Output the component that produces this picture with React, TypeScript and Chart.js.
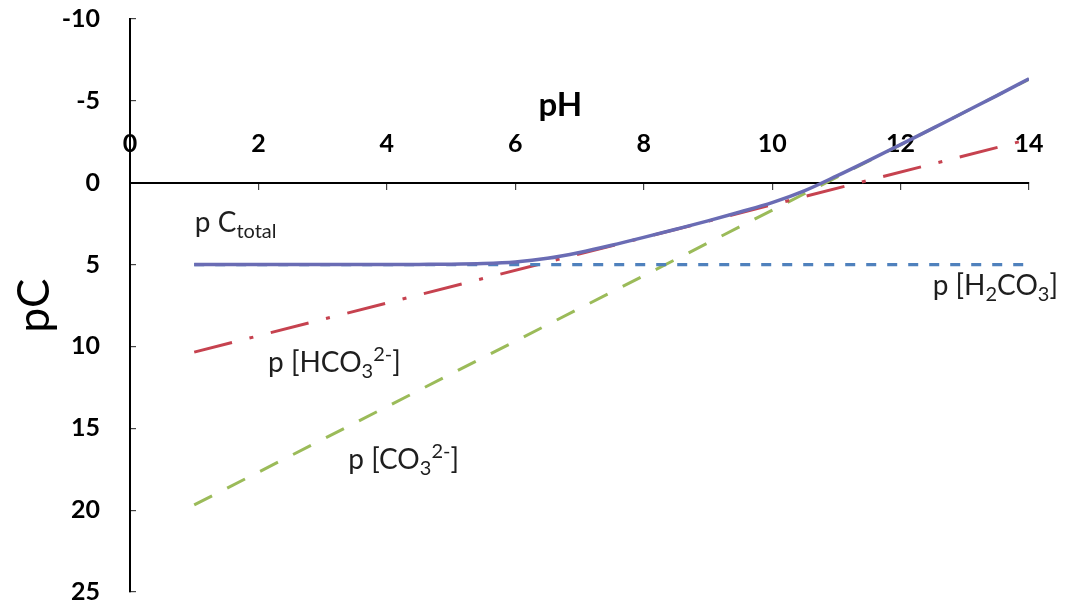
import React, { useEffect, useRef } from 'react';
import { Chart, registerables } from 'chart.js';

Chart.register(...registerables);

// ---- data ----
const phTotal = [1, 2, 3, 4, 4.5, 5, 5.5, 6, 6.5, 7, 7.5, 8, 8.5, 9, 9.5, 10, 10.5, 11, 11.5, 12, 12.5, 13, 13.5, 14];
const pcTotal = [5, 5, 5, 5, 4.99, 4.98, 4.94, 4.84, 4.62, 4.26, 3.82, 3.34, 2.84, 2.33, 1.79, 1.22, 0.5, -0.4, -1.35, -2.33, -3.32, -4.32, -5.32, -6.35];
const phLine = [1, 14];
const pcH2CO3 = [5, 5];
const pcHCO3 = [10.35, -2.65];
const pcCO3 = [19.68, -6.32];
const xTickValues = [0, 2, 4, 6, 8, 10, 12, 14];
const yTickValues = [-10, -5, 0, 5, 10, 15, 20, 25];

type Part = { t: string; k: 'n' | 'sub' | 'sup' };
const labelCTotal: Part[] = [{ t: 'p C', k: 'n' }, { t: 'total', k: 'sub' }];
const labelHCO3: Part[] = [{ t: 'p [HCO', k: 'n' }, { t: '3', k: 'sub' }, { t: '2-', k: 'sup' }, { t: ']', k: 'n' }];
const labelCO3: Part[] = [{ t: 'p [CO', k: 'n' }, { t: '3', k: 'sub' }, { t: '2-', k: 'sup' }, { t: ']', k: 'n' }];
const labelH2CO3: Part[] = [{ t: 'p [H', k: 'n' }, { t: '2', k: 'sub' }, { t: 'CO', k: 'n' }, { t: '3', k: 'sub' }, { t: ']', k: 'n' }];

// anchors (left edge, baseline) in data units
const annotations: { parts: Part[]; x: number; y: number }[] = [
  { parts: labelCTotal, x: 1.01, y: 3.0 },
  { parts: labelHCO3, x: 2.15, y: 11.55 },
  { parts: labelCO3, x: 3.4, y: 17.5 },
  { parts: labelH2CO3, x: 12.5, y: 6.85 },
];

const toXY = (xs: number[], ys: number[]) => xs.map((x, i) => ({ x, y: ys[i] }));

function drawRich(ctx: CanvasRenderingContext2D, x: number, y: number, parts: Part[]) {
  let cx = x;
  for (const p of parts) {
    const size = p.k === 'n' ? 28 : 20;
    ctx.font = `${size}px Lato`;
    const dy = p.k === 'sub' ? 6 : p.k === 'sup' ? -11 : 0;
    ctx.fillText(p.t, cx, y + dy);
    cx += ctx.measureText(p.t).width;
  }
}

const labelPlugin = {
  id: 'richLabels',
  afterDraw(chart: any) {
    const ctx = chart.ctx as CanvasRenderingContext2D;
    const xs = chart.scales.x;
    const ys = chart.scales.y;
    ctx.save();
    ctx.fillStyle = '#1e1e1e';
    ctx.textAlign = 'left';
    ctx.textBaseline = 'alphabetic';
    for (const a of annotations) {
      drawRich(ctx, xs.getPixelForValue(a.x), ys.getPixelForValue(a.y), a.parts);
    }
    // axis title pH
    ctx.fillStyle = '#000';
    ctx.font = 'bold 33px Lato';
    ctx.textAlign = 'center';
    ctx.fillText('pH', xs.getPixelForValue(6.7), ys.getPixelForValue(0) - 67);
    ctx.restore();
  },
};

export default function App() {
  const ref = useRef<HTMLCanvasElement>(null);
  useEffect(() => {
    if (!ref.current) return;
    const chart = new Chart(ref.current, {
      type: 'line',
      data: {
        datasets: [
          {
            label: 'p Ctotal',
            data: toXY(phTotal, pcTotal),
            borderColor: '#6A6CB4',
            borderWidth: 3.5,
            pointRadius: 0,
            cubicInterpolationMode: 'monotone',
            fill: false,
          },
          {
            label: 'p [H2CO3]',
            data: toXY(phLine, pcH2CO3),
            borderColor: '#4F81BD',
            borderWidth: 3.2,
            borderDash: [10, 11],
            pointRadius: 0,
            fill: false,
          },
          {
            label: 'p [HCO3-]',
            data: toXY(phLine, pcHCO3),
            borderColor: '#C6424F',
            borderWidth: 3,
            borderDash: [39, 18, 4, 18],
            pointRadius: 0,
            fill: false,
          },
          {
            label: 'p [CO3 2-]',
            data: toXY(phLine, pcCO3),
            borderColor: '#9BBB59',
            borderWidth: 3,
            borderDash: [20, 17],
            pointRadius: 0,
            fill: false,
          },
        ],
      },
      options: {
        responsive: true,
        maintainAspectRatio: false,
        animation: false,
        layout: { padding: { left: 0, top: 19, right: 42, bottom: 19 } },
        plugins: { legend: { display: false }, tooltip: { enabled: false } },
        scales: {
          x: {
            type: 'linear',
            min: 0,
            max: 14,
            position: { y: 0 } as any,
            afterBuildTicks: (s: any) => {
              s.ticks = xTickValues.map((v) => ({ value: v }));
            },
            afterFit: (s: any) => {
              s.height = 0;
            },
            grid: { drawOnChartArea: false, drawTicks: true, tickLength: 6, color: '#444', lineWidth: 1.2 },
            border: { display: true, color: '#000', width: 2 },
            ticks: {
              padding: -60,
              color: '#000',
              font: { family: 'Lato', size: 25, weight: 'bold' },
              maxRotation: 0,
              autoSkip: false,
            },
          },
          y: {
            type: 'linear',
            min: -10,
            max: 25,
            reverse: true,
            position: 'left',
            afterBuildTicks: (s: any) => {
              s.ticks = yTickValues.map((v) => ({ value: v }));
            },
            afterFit: (s: any) => {
              s.width = 130;
              s.paddingTop = 0;
              s.paddingBottom = 0;
            },
            grid: { drawOnChartArea: false, drawTicks: true, tickLength: -6, color: '#444', lineWidth: 1.2 },
            border: { display: true, color: '#000', width: 2 },
            ticks: {
              padding: 36,
              color: '#000',
              font: { family: 'Lato', size: 25, weight: 'bold' },
              autoSkip: false,
            },
            title: {
              display: true,
              text: 'pC',
              color: '#000',
              font: { family: 'Lato', size: 44, weight: 'normal' },
              padding: { top: 8, bottom: 0 },
            },
          },
        },
      },
      plugins: [labelPlugin],
    });
    return () => chart.destroy();
  }, []);
  return (
    <div style={{ position: 'absolute', left: 0, top: 0, width: 1071, height: 611 }}>
      <canvas ref={ref} />
    </div>
  );
}
